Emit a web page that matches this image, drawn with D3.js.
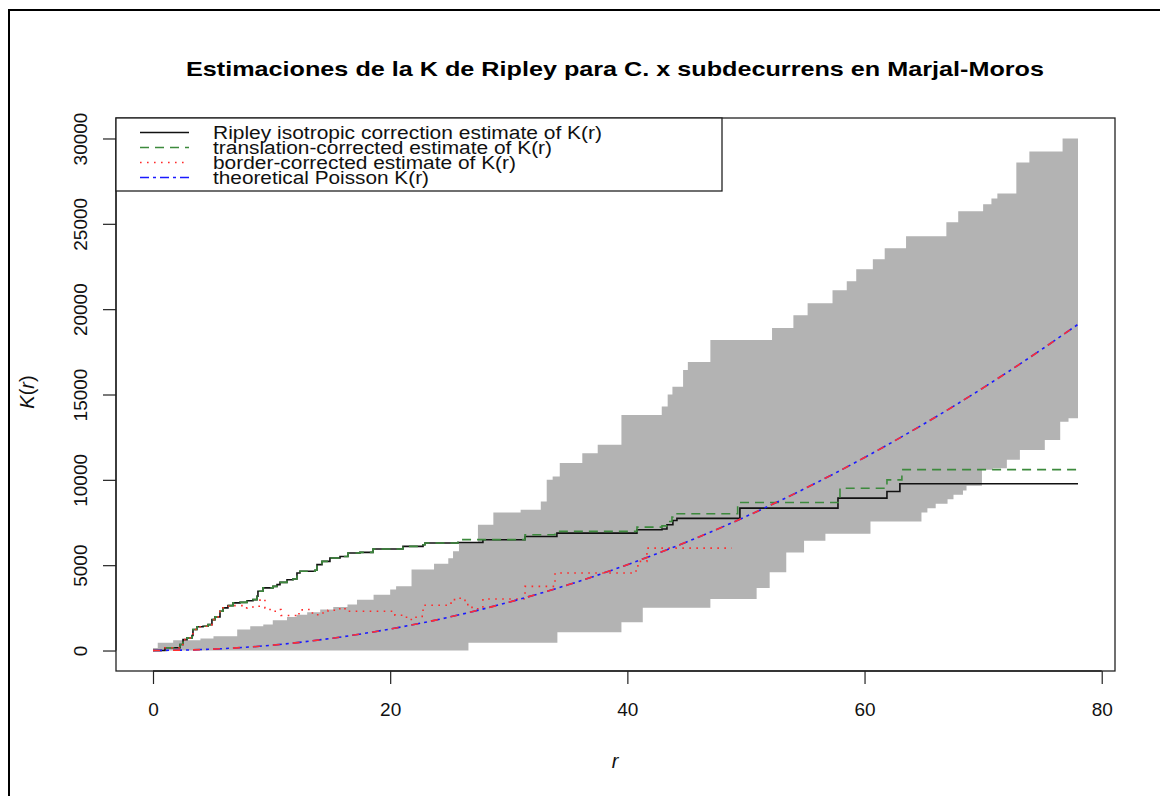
<!DOCTYPE html>
<html>
<head>
<meta charset="utf-8">
<script src="https://cdn.jsdelivr.net/npm/d3@7/dist/d3.min.js"></script>
<style>
  html, body { margin: 0; padding: 0; background: #fff; }
  svg { display: block; font-family: "Liberation Sans", Arial, Helvetica, sans-serif; }
</style>
</head>
<body>
<svg id="chart" width="1160" height="796"></svg>
<script>
// Ripley's K estimates for C. x subdecurrens (Marjal-Moros), with simulation envelope.

const chartTitle = "Estimaciones de la K de Ripley para C. x subdecurrens en Marjal-Moros";
const xTicks = [0, 20, 40, 60, 80];
const yTicks = [0, 5000, 10000, 15000, 20000, 25000, 30000];
const legendLabels = [
  "Ripley isotropic correction estimate of K(r)",
  "translation-corrected estimate of K(r)",
  "border-corrected estimate of K(r)",
  "theoretical Poisson K(r)"
];

// Upper simulation envelope, step function [r, K]
const envHi = [
  [0, 150], [0.4, 450], [1.7, 600], [4.0, 700], [5.1, 840], [7.1, 1230], [8.2, 1420],
  [9.3, 1520], [10.1, 1770], [11.3, 1970], [12.1, 2100], [13.0, 2240], [14.1, 2400],
  [15.2, 2550], [16.4, 2690], [17.2, 2980], [18.6, 3270], [20.0, 3570], [20.5, 3760],
  [21.8, 4740], [23.7, 5090], [24.9, 5400], [25.3, 5810], [25.8, 6300], [27.4, 7370],
  [28.7, 8090], [31.0, 8250], [32.7, 8730], [33.2, 10000], [33.7, 10200], [34.3, 10980],
  [36.2, 11560], [37.5, 12050], [39.5, 13800], [42.9, 14300], [43.4, 15000], [43.8, 15450],
  [44.7, 16430], [45.1, 16900], [47.0, 18190], [52.2, 18890], [54.0, 19650], [55.2, 20350],
  [57.3, 21110], [58.5, 21640], [59.3, 22340], [60.7, 22920], [61.7, 23570], [63.5, 24270],
  [66.9, 25090], [67.9, 25730], [70.0, 26140], [70.7, 26490], [71.2, 26780], [72.8, 28600],
  [73.9, 29240], [76.7, 30000], [78, 30000]
];

// Lower simulation envelope, step function [r, K]
const envLo = [
  [0, 0], [26.6, 450], [34.1, 1070], [39.5, 1650], [41.3, 2500], [47.0, 3020], [50.9, 3670],
  [52.0, 4580], [53.4, 5750], [54.9, 6430], [56.7, 6840], [60.5, 7560], [64.8, 8090],
  [65.3, 8340], [66.0, 8600], [67.0, 8870], [67.5, 9120], [68.3, 9370], [68.6, 9650],
  [69.9, 10590], [70.8, 10680], [72.0, 11170], [73.1, 11750], [75.2, 12340], [76.5, 13410],
  [77.2, 13610], [78, 13610]
];

// Isotropic-corrected estimate
const kIso = [
  [0, 0], [1.01, 160], [2.28, 350], [2.53, 640], [2.87, 740], [3.29, 880], [3.37, 1230],
  [3.71, 1390], [4.22, 1420], [4.64, 1520], [4.97, 1810], [5.23, 1970], [5.65, 2300],
  [5.90, 2500], [6.32, 2630], [6.75, 2790], [7.34, 2820], [7.93, 2920], [8.43, 2980],
  [8.77, 3180], [8.85, 3470], [9.27, 3670], [10.12, 3760], [10.46, 3860], [10.71, 3990],
  [11.30, 4150], [11.80, 4190], [12.14, 4540], [12.39, 4640], [13.66, 4700], [13.83, 5030],
  [14.25, 5220], [14.92, 5420], [15.77, 5510], [16.44, 5710], [17.45, 5750], [18.55, 5950],
  [21.08, 6100], [22.77, 6200], [22.93, 6300], [25.72, 6330], [27.82, 6490], [31.37, 6680],
  [34.06, 6880], [40.81, 7080], [42.92, 7120], [43.34, 7370], [43.84, 7620], [44.18, 7740],
  [49.49, 8340], [57.76, 8930], [61.89, 9320], [62.98, 9770], [78, 9770]
];

// Translation-corrected estimate
const kTrans = [
  [0, 0], [1.01, 160], [2.28, 350], [2.53, 640], [2.87, 740], [3.29, 880], [3.37, 1230],
  [3.71, 1390], [4.22, 1420], [4.64, 1520], [4.97, 1810], [5.23, 1970], [5.65, 2300],
  [5.90, 2500], [6.32, 2630], [6.75, 2790], [7.34, 2820], [7.93, 2920], [8.43, 2980],
  [8.77, 3180], [8.85, 3470], [9.27, 3670], [10.12, 3760], [10.46, 3860], [10.71, 3990],
  [11.30, 4150], [11.80, 4190], [12.14, 4540], [12.39, 4640], [13.66, 4700], [13.83, 5030],
  [14.25, 5220], [14.92, 5420], [15.77, 5510], [16.44, 5710], [17.45, 5750], [18.55, 5950],
  [21.08, 6100], [22.77, 6200], [22.93, 6300], [25.72, 6500], [31.37, 6780], [33.90, 6980],
  [40.81, 7230], [42.92, 7300], [43.34, 7560], [43.76, 7820], [43.84, 8010], [49.30, 8670],
  [57.93, 9510], [61.89, 10000], [63.15, 10600], [78, 10600]
];

// Border-corrected estimate
const kBorder = [
  [0, 0], [1.01, 160], [2.28, 350], [2.53, 640], [2.87, 740], [3.29, 880], [3.37, 1230],
  [3.71, 1390], [4.22, 1420], [4.64, 1520], [4.97, 1810], [5.23, 1970], [5.65, 2300],
  [5.90, 2500], [6.24, 2590], [6.75, 2630], [7.50, 2500], [7.93, 2550], [8.43, 2590],
  [9.02, 3000], [9.44, 2500], [9.87, 2300], [10.46, 2400], [10.79, 2050], [12.14, 2000],
  [12.31, 2380], [12.90, 2400], [13.24, 2200], [13.74, 2100], [14.25, 2200], [14.76, 2360],
  [15.51, 2450], [15.94, 2500], [16.19, 2300], [20.40, 2070], [21.16, 1950], [21.67, 1820],
  [22.18, 2000], [22.77, 2650], [24.87, 2690], [25.13, 2980], [25.63, 3060], [26.31, 2690],
  [26.90, 2450], [27.82, 3020], [31.37, 3760], [33.90, 4540], [40.73, 4740], [40.89, 5220],
  [41.65, 6000], [48.8, 6000]
];

// Theoretical Poisson curve, sampled
const kTheo = [
  [0, 0], [5, 80], [10, 310], [15, 710], [20, 1260], [25, 1960], [30, 2830], [35, 3850],
  [40, 5030], [45, 6360], [50, 7850], [55, 9500], [60, 11310], [65, 13270], [70, 15390],
  [75, 17670], [78, 19110]
];

const svg = d3.select("#chart");

// plot region
const box = { left: 116, right: 1115, top: 118, bottom: 671 };
const x = d3.scaleLinear().domain([-3.12, 81.12]).range([box.left, box.right]);
const y = d3.scaleLinear().domain([-1200, 31200]).range([box.bottom, box.top]);

// outer frame
svg.append("path")
  .attr("d", "M9,796 V10 H1160")
  .attr("fill", "none").attr("stroke", "#000").attr("stroke-width", 2);

// envelope band: evaluate both step functions on a shared grid
const stepAt = (steps, r) => {
  const i = d3.bisector(d => d[0]).right(steps, r) - 1;
  return steps[Math.max(0, i)][1];
};
const grid = Array.from(new Set(envHi.map(d => d[0]).concat(envLo.map(d => d[0])))).sort((a, b) => a - b);
const band = grid.map(r => ({ r, hi: stepAt(envHi, r), lo: stepAt(envLo, r) }));

const plot = svg.append("g");
plot.append("path")
  .datum(band)
  .attr("fill", "#b3b3b3")
  .attr("d", d3.area().curve(d3.curveStepAfter)
    .x(d => x(d.r)).y0(d => y(d.lo)).y1(d => y(d.hi)));

const stepLine = d3.line().curve(d3.curveStepAfter).x(d => x(d[0])).y(d => y(d[1]));
const smoothLine = d3.line().curve(d3.curveMonotoneX).x(d => x(d[0])).y(d => y(d[1]));

plot.append("path").datum(kIso)
  .attr("fill", "none").attr("stroke", "#111").attr("stroke-width", 1.6)
  .attr("d", stepLine);
plot.append("path").datum(kTrans)
  .attr("fill", "none").attr("stroke", "#3d8a3d").attr("stroke-width", 1.6)
  .attr("stroke-dasharray", "9,6")
  .attr("d", stepLine);
plot.append("path").datum(kBorder)
  .attr("fill", "none").attr("stroke", "#ff2a2a").attr("stroke-width", 1.6)
  .attr("stroke-dasharray", "1.6,5.4")
  .attr("d", stepLine);
plot.append("path").datum(kTheo)
  .attr("fill", "none").attr("stroke", "#1a1aff").attr("stroke-width", 1.6)
  .attr("stroke-dasharray", "9,4,3,4")
  .attr("d", smoothLine);
plot.append("path").datum(kTheo)
  .attr("fill", "none").attr("stroke", "#ff3030").attr("stroke-width", 1.6)
  .attr("stroke-dasharray", "7,13")
  .attr("d", smoothLine);

// plot box
svg.append("rect")
  .attr("x", box.left).attr("y", box.top)
  .attr("width", box.right - box.left).attr("height", box.bottom - box.top)
  .attr("fill", "none").attr("stroke", "#222").attr("stroke-width", 1.3);

// x axis
const gx = svg.append("g")
  .attr("transform", `translate(0,${box.bottom})`)
  .call(d3.axisBottom(x).tickValues(xTicks).tickFormat(d3.format("d"))
    .tickSize(13).tickSizeOuter(0).tickPadding(19));
gx.select(".domain").attr("d", `M${x(xTicks[0])},0H${x(xTicks[xTicks.length - 1])}`)
  .attr("stroke", "#222").attr("stroke-width", 1.3);
gx.selectAll(".tick line").attr("stroke", "#222").attr("stroke-width", 1.2);
gx.selectAll(".tick text")
  .attr("font-size", 19).attr("fill", "#111")
  .style("font-family", "'Liberation Sans', Arial, sans-serif");

// y axis
const gy = svg.append("g")
  .attr("transform", `translate(${box.left},0)`)
  .call(d3.axisLeft(y).tickValues(yTicks).tickFormat(d3.format("d"))
    .tickSize(13).tickSizeOuter(0));
gy.select(".domain").attr("d", `M0,${y(yTicks[0])}V${y(yTicks[yTicks.length - 1])}`)
  .attr("stroke", "#222").attr("stroke-width", 1.3);
gy.selectAll(".tick line").attr("stroke", "#222").attr("stroke-width", 1.2);
gy.selectAll(".tick text")
  .attr("x", 0).attr("y", 0).attr("dy", "0.35em")
  .attr("text-anchor", "middle")
  .attr("transform", "translate(-36,0) rotate(-90)")
  .attr("font-size", 19).attr("fill", "#111")
  .style("font-family", "'Liberation Sans', Arial, sans-serif");

// title
svg.append("text")
  .attr("x", 615).attr("y", 76)
  .attr("text-anchor", "middle")
  .attr("font-weight", "bold").attr("font-size", 21)
  .attr("textLength", 858).attr("lengthAdjust", "spacingAndGlyphs")
  .attr("fill", "#000")
  .text(chartTitle);

// axis titles
const xt = svg.append("text")
  .attr("x", 615).attr("y", 768)
  .attr("text-anchor", "middle").attr("font-size", 20).attr("fill", "#111");
xt.append("tspan").attr("font-style", "italic").text("r");

const yt = svg.append("text")
  .attr("transform", "translate(34,392) rotate(-90)")
  .attr("text-anchor", "middle").attr("font-size", 20).attr("fill", "#111");
yt.append("tspan").attr("font-style", "italic").text("K");
yt.append("tspan").text("(");
yt.append("tspan").attr("font-style", "italic").text("r");
yt.append("tspan").text(")");

// legend
const legend = svg.append("g");
legend.append("rect")
  .attr("x", box.left).attr("y", box.top)
  .attr("width", 606).attr("height", 73)
  .attr("fill", "#fff").attr("stroke", "#222").attr("stroke-width", 1.3);

const legendStyles = [
  { color: "#111", dash: null },
  { color: "#3d8a3d", dash: "9,6" },
  { color: "#ff2a2a", dash: "1.6,5.4" },
  { color: "#1a1aff", dash: "9,4,3,4" }
];
const legendWidths = [389, 339, 303, 216];
legendLabels.forEach((label, i) => {
  const ly = 132.5 + i * 15;
  legend.append("line")
    .attr("x1", 140).attr("x2", 189).attr("y1", ly).attr("y2", ly)
    .attr("stroke", legendStyles[i].color).attr("stroke-width", 1.6)
    .attr("stroke-dasharray", legendStyles[i].dash);
  legend.append("text")
    .attr("x", 213).attr("y", ly).attr("dy", "0.36em")
    .attr("font-size", 18).attr("fill", "#111")
    .attr("textLength", legendWidths[i]).attr("lengthAdjust", "spacingAndGlyphs")
    .text(label);
});
</script>
</body>
</html>
